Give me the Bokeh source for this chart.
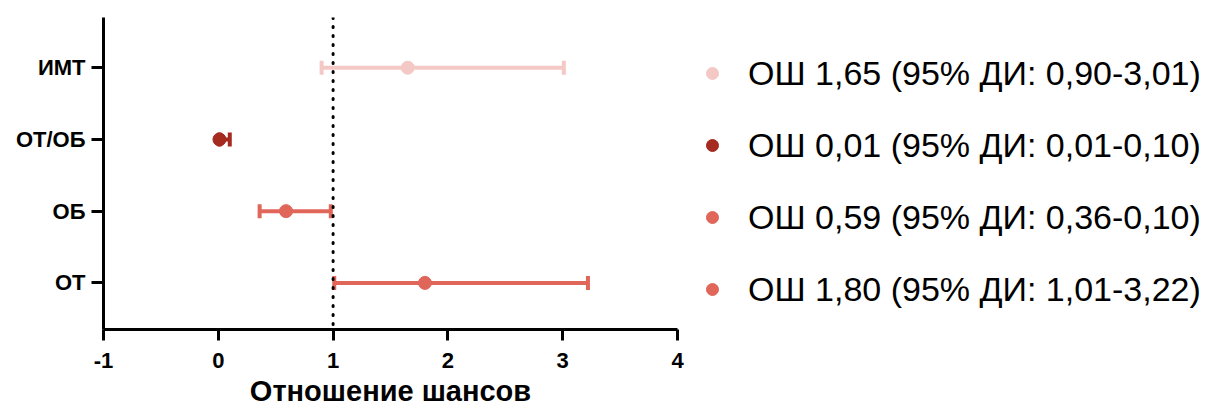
from bokeh.plotting import figure
from bokeh.models import (Whisker, TeeHead, Span, Legend, LegendItem, FixedTicker,
                          ColumnDataSource, Range1d)
from bokeh.embed import file_html
from bokeh.resources import INLINE

# ---- data ----
categories = ["ИМТ", "ОТ/ОБ", "ОБ", "ОТ"]
positions = [4, 3, 2, 1]
odds = [1.65, 0.01, 0.59, 1.80]
ci_low = [0.90, 0.01, 0.36, 1.01]
ci_high = [3.01, 0.10, 0.98, 3.22]
labels = [
    "ОШ 1,65 (95% ДИ: 0,90-3,01)",
    "ОШ 0,01 (95% ДИ: 0,01-0,10)",
    "ОШ 0,59 (95% ДИ: 0,36-0,10)",
    "ОШ 1,80 (95% ДИ: 1,01-3,22)",
]
colors = ["#f4c8c4", "#a52a1f", "#e0665a", "#e0665a"]
x_ticks = [-1, 0, 1, 2, 3, 4]
x_tick_labels = ["-1", "0", "1", "2", "3", "4"]
reference_line = 1

FONT = "Liberation Sans"

p = figure(frame_width=574, frame_height=312, output_backend="svg", toolbar_location=None,
           x_range=Range1d(-1, 4), y_range=Range1d(0.35, 4.7),
           min_border_left=103, min_border_right=0, min_border_top=17,
           min_border_bottom=0)
p.outline_line_color = None
p.grid.visible = False
p.background_fill_color = "white"

# error bars
for i in range(len(categories)):
    src = ColumnDataSource(dict(base=[positions[i]], lower=[ci_low[i]], upper=[ci_high[i]]))
    w = Whisker(source=src, base="base", lower="lower", upper="upper", dimension="width",
                line_color=colors[i], line_width=4,
                upper_head=TeeHead(size=14, line_color=colors[i], line_width=4),
                lower_head=TeeHead(size=14, line_color=colors[i], line_width=4))
    p.add_layout(w)

pts = ColumnDataSource(dict(x=odds, y=positions, color=colors))
r = p.scatter("x", "y", source=pts, size=13, fill_color="color", line_color="color")

span = Span(location=reference_line, dimension="height", line_color="black",
            line_width=3, line_dash="1 8", line_cap="round")
p.add_layout(span)

# axes
for ax in (p.xaxis[0], p.yaxis[0]):
    ax.axis_line_width = 3
    ax.axis_line_color = "black"
    ax.major_tick_line_width = 3
    ax.major_tick_line_color = "black"
    ax.major_tick_in = 0
    ax.minor_tick_line_color = None
    ax.major_label_text_font = FONT
    ax.major_label_text_font_style = "bold"
    ax.major_label_text_font_size = "22px"
    ax.major_label_text_color = "black"

p.xaxis.ticker = FixedTicker(ticks=x_ticks)
p.xaxis.major_label_overrides = {t: s for t, s in zip(x_ticks, x_tick_labels)}
p.xaxis.major_tick_out = 11
p.xaxis.major_label_standoff = 12
p.xaxis.axis_label = "Отношение шансов"
p.xaxis.axis_label_text_font = FONT
p.xaxis.axis_label_text_font_style = "bold"
p.xaxis.axis_label_text_font_size = "29px"
p.xaxis.axis_label_text_color = "black"
p.xaxis.axis_label_standoff = 4

p.yaxis.ticker = FixedTicker(ticks=positions)
p.yaxis.major_label_overrides = {pos: cat for pos, cat in zip(positions, categories)}
p.yaxis.major_tick_out = 12
p.yaxis.major_label_standoff = 6

legend = Legend(items=[LegendItem(label=labels[i], renderers=[r], index=i)
                       for i in range(len(labels))],
                location="top_left", margin=20, padding=0, spacing=0,
                glyph_width=30, glyph_height=72, label_standoff=21,
                label_text_font=FONT, label_text_font_size="34px",
                label_text_color="black", border_line_color=None,
                background_fill_alpha=0)
p.add_layout(legend, "right")

open("out.html", "w").write(file_html(p, INLINE))
